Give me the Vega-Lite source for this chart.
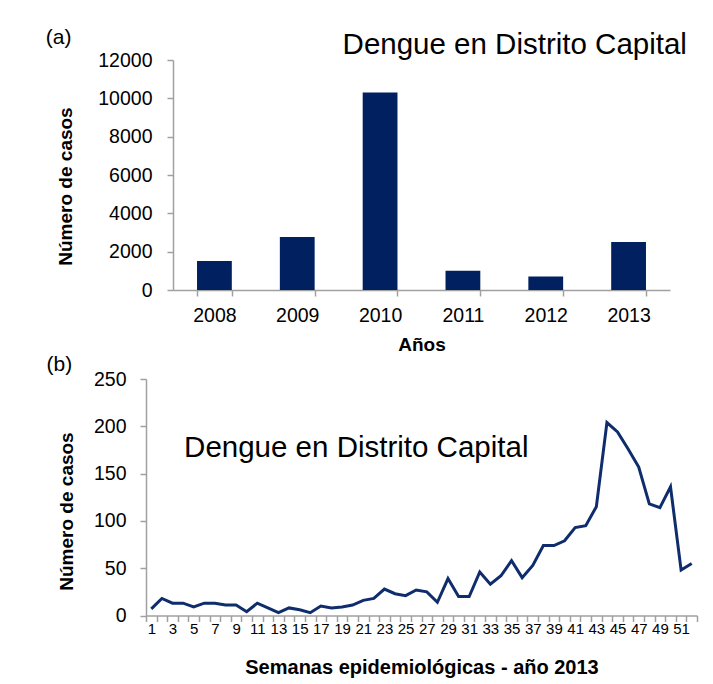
{
  "$schema": "https://vega.github.io/schema/vega-lite/v6.json",
  "background": "white",
  "padding": {"left": 45, "top": 27, "right": 5, "bottom": 2},
  "bounds": "flush",
  "center": true,
  "spacing": 89,
  "config": {
    "font": "Liberation Sans",
    "view": {"stroke": null},
    "axis": {
      "domainColor": "#a0a0a0", "tickColor": "#a0a0a0", "domainWidth": 1.5, "tickWidth": 1.5,
      "labelColor": "#000000", "titleColor": "#000000", "grid": false, "labelOverlap": false,
      "labelFont": "Liberation Sans", "titleFont": "Liberation Sans", "titleFontWeight": "bold"
    },
    "title": {"font": "Liberation Sans", "fontWeight": "normal", "color": "#000000", "anchor": "start", "frame": "bounds"}
  },
  "vconcat": [
    {
      "width": 497,
      "height": 230,
      "title": {"text": "(a)", "fontSize": 21, "offset": -18, "dx": -11},
      "layer": [
        {
          "data": {"values": [
            {"anio": "2008", "casos": 1515},
            {"anio": "2009", "casos": 2770},
            {"anio": "2010", "casos": 10310},
            {"anio": "2011", "casos": 1010},
            {"anio": "2012", "casos": 700},
            {"anio": "2013", "casos": 2510}
          ]},
          "mark": {"type": "bar", "color": "#002060"},
          "encoding": {
            "x": {"field": "anio", "type": "nominal", "sort": null,
              "scale": {"paddingInner": 0.58, "paddingOuter": 0.29},
              "axis": {"title": "Años", "labelAngle": 0, "tickBand": "extent", "tickSize": 6, "labelPadding": 10,
                "labelFontSize": 19.5, "titleFontSize": 19, "titlePadding": 11}},
            "y": {"field": "casos", "type": "quantitative",
              "scale": {"domain": [0, 12000], "nice": false},
              "axis": {"title": "Número de casos", "values": [0, 2000, 4000, 6000, 8000, 10000, 12000], "format": "d",
                "labelOverlap": false, "tickCount": 7,
                "tickSize": 6, "labelPadding": 15, "labelFontSize": 19.5, "titleFontSize": 19, "titlePadding": 22, "titleY": 126}}
          }
        },
        {
          "data": {"values": [{"etiqueta": "Dengue en Distrito Capital"}]},
          "mark": {"type": "text", "fontSize": 29.5, "align": "center", "baseline": "alphabetic", "dx": -31, "dy": -6, "color": "#000000"},
          "encoding": {
            "text": {"field": "etiqueta"},
            "x": {"datum": "2012", "type": "nominal"},
            "y": {"datum": 12000, "type": "quantitative"}
          }
        }
      ]
    },
    {
      "width": 551,
      "height": 236.5,
      "title": {"text": "(b)", "fontSize": 21, "offset": -6, "dx": -11},
      "layer": [
        {
          "data": {"values": [
            {"semana": 1, "casos": 7}, {"semana": 2, "casos": 18}, {"semana": 3, "casos": 13}, {"semana": 4, "casos": 13},
            {"semana": 5, "casos": 9}, {"semana": 6, "casos": 13}, {"semana": 7, "casos": 13}, {"semana": 8, "casos": 11},
            {"semana": 9, "casos": 11}, {"semana": 10, "casos": 4}, {"semana": 11, "casos": 13}, {"semana": 12, "casos": 8},
            {"semana": 13, "casos": 3}, {"semana": 14, "casos": 8}, {"semana": 15, "casos": 6}, {"semana": 16, "casos": 3},
            {"semana": 17, "casos": 10}, {"semana": 18, "casos": 8}, {"semana": 19, "casos": 9}, {"semana": 20, "casos": 11},
            {"semana": 21, "casos": 16}, {"semana": 22, "casos": 18}, {"semana": 23, "casos": 28}, {"semana": 24, "casos": 23},
            {"semana": 25, "casos": 21}, {"semana": 26, "casos": 27}, {"semana": 27, "casos": 25}, {"semana": 28, "casos": 14},
            {"semana": 29, "casos": 39}, {"semana": 30, "casos": 20}, {"semana": 31, "casos": 20}, {"semana": 32, "casos": 46},
            {"semana": 33, "casos": 33}, {"semana": 34, "casos": 42}, {"semana": 35, "casos": 58}, {"semana": 36, "casos": 40},
            {"semana": 37, "casos": 53}, {"semana": 38, "casos": 74}, {"semana": 39, "casos": 74}, {"semana": 40, "casos": 79},
            {"semana": 41, "casos": 93}, {"semana": 42, "casos": 95}, {"semana": 43, "casos": 115}, {"semana": 44, "casos": 204},
            {"semana": 45, "casos": 194}, {"semana": 46, "casos": 176}, {"semana": 47, "casos": 157}, {"semana": 48, "casos": 118},
            {"semana": 49, "casos": 114}, {"semana": 50, "casos": 136}, {"semana": 51, "casos": 48}, {"semana": 52, "casos": 55}
          ]},
          "mark": {"type": "line", "color": "#0f2d6d", "strokeWidth": 3},
          "encoding": {
            "x": {"field": "semana", "type": "ordinal", "bandPosition": 0.5,
              "scale": {"type": "band", "paddingInner": 0, "paddingOuter": 0},
              "axis": {"title": "Semanas epidemiológicas  -  año 2013", "labelAngle": 0, "tickBand": "extent", "tickSize": 6,
                "labelPadding": 0, "labelFontSize": 15, "labelOverlap": false, "labelFlush": false,
                "labelExpr": "datum.value % 2 == 1 ? datum.label : ''",
                "titleFontSize": 20, "titlePadding": 21}},
            "y": {"field": "casos", "type": "quantitative",
              "scale": {"domain": [0, 250], "nice": false},
              "axis": {"title": "Número de casos", "values": [0, 50, 100, 150, 200, 250], "labelOverlap": false,
                "tickSize": 6, "labelPadding": 14, "labelFontSize": 19.5, "titleFontSize": 19, "titlePadding": 17, "titleY": 132}}
          }
        },
        {
          "data": {"values": [{"etiqueta": "Dengue en Distrito Capital"}]},
          "mark": {"type": "text", "fontSize": 29.5, "align": "left", "baseline": "alphabetic", "dx": 1, "color": "#000000"},
          "encoding": {
            "text": {"field": "etiqueta"},
            "x": {"datum": 4, "type": "ordinal"},
            "y": {"datum": 168, "type": "quantitative"}
          }
        }
      ]
    }
  ]
}
